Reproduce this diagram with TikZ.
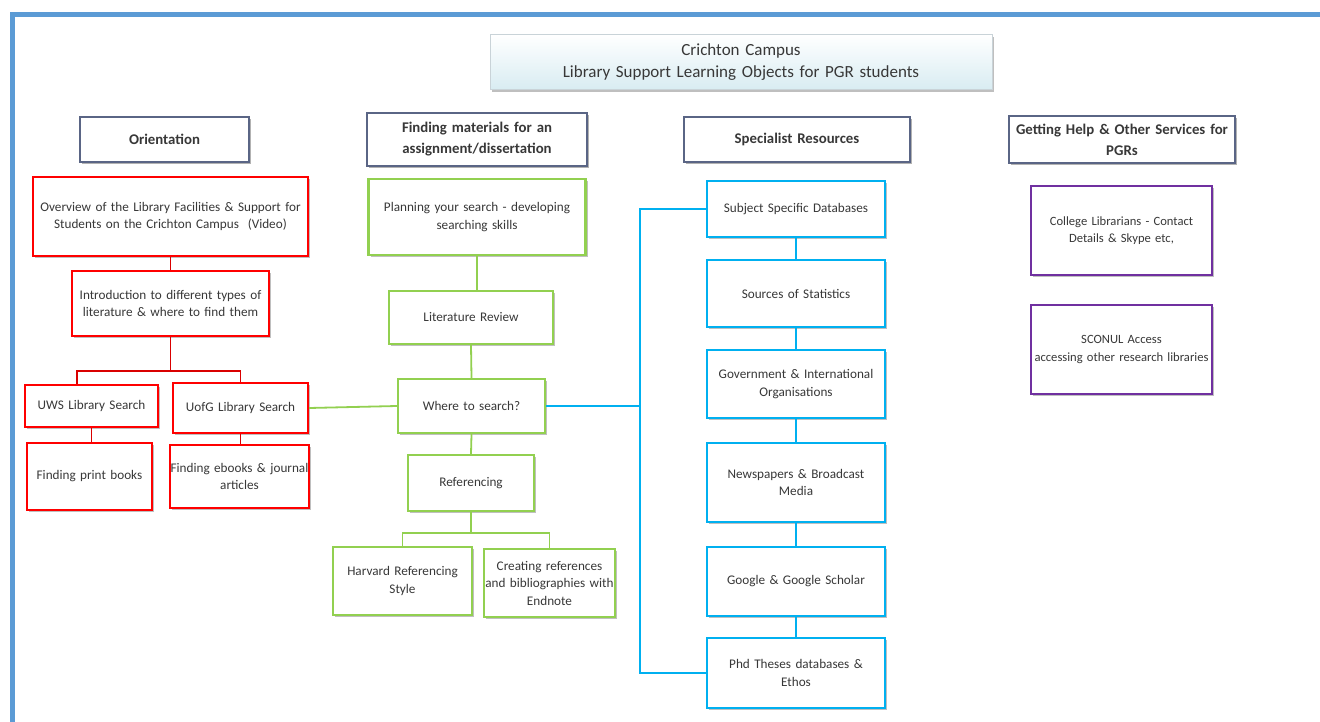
\documentclass[tikz,border=0pt]{standalone}
\usepackage{fontspec}
\setmainfont{Carlito}
\usetikzlibrary{shadows}
\definecolor{frameblue}{HTML}{5B9BD5}
\definecolor{redc}{HTML}{FF0000}
\definecolor{greenc}{HTML}{92D050}
\definecolor{bluec}{HTML}{00B0F0}
\definecolor{purplec}{HTML}{7030A0}
\definecolor{hdrc}{HTML}{5A6585}
\definecolor{txt}{HTML}{383838}
\definecolor{titlebd}{HTML}{C9D3D8}
\definecolor{titlebot}{HTML}{D8ECF2}
\begin{document}
\begin{tikzpicture}[x=1pt,y=-1pt,
  sz/.style n args={3}{minimum width=#1pt, minimum height=#2pt, text width=#3pt},
  box/.style={draw, line width=2.4pt, fill=white, text=txt, align=center, inner sep=0pt,
    font=\fontsize{13.2}{17.5}\selectfont,
    drop shadow={shadow xshift=2pt, shadow yshift=-2pt, opacity=0.25, fill=black}},
  rbox/.style={box, draw=redc},
  gbox/.style={box, draw=greenc},
  bbox/.style={box, draw=bluec},
  pbox/.style={box, draw=purplec, font=\fontsize{12.6}{17.5}\selectfont},
  hdr/.style={draw=hdrc, line width=1.4pt, fill=white, text=txt, align=center, inner sep=0pt,
    font=\fontsize{14.8}{21}\selectfont\bfseries,
    drop shadow={shadow xshift=2pt, shadow yshift=-2pt, opacity=0.3, fill=black}},
  titlebox/.style={draw=titlebd, line width=1pt, top color=white, bottom color=titlebot,
    text=txt, align=center, inner sep=0pt, font=\fontsize{17}{22}\selectfont,
    drop shadow={shadow xshift=2pt, shadow yshift=-2pt, opacity=0.25, fill=black}},
  rconn/.style={draw=redc!85!black, line width=1.8pt},
  gconn/.style={draw=greenc, line width=1.8pt},
  bconn/.style={draw=bluec, line width=1.8pt}]
\useasboundingbox (0,0) rectangle (1320,722);
% frame
\draw[frameblue, line width=5pt] (12,730) -- (12,15) -- (1330,15);

% title
\node[titlebox, sz={502}{55}{495}] (title) at (741,62.5) {Crichton Campus\\Library Support Learning Objects for PGR students};

% headers
\node[hdr, sz={169}{45}{165}] (h1) at (164.5,139.5) {Orientation};
\node[hdr, sz={220}{53}{216}] (h2) at (477,139.5) {Finding materials for an\\assignment/dissertation};
\node[hdr, sz={226}{45}{222}] (h3) at (797,139.5) {Specialist Resources};
\node[hdr, sz={226}{47}{226}] (h4) at (1122,139.5) {Getting Help \& Other Services for\\PGRs};

% red column
\node[rbox, sz={275}{79}{275}] (ov) at (170.5,216.5) {Overview of the Library Facilities \& Support for\\Students on the Crichton Campus\ \ (Video)};
\node[rbox, sz={197}{65}{197}] (intro) at (170.5,303.5) {Introduction to different types of\\literature \& where to find them};
\node[rbox, sz={133}{42}{133}] (uws) at (91.5,406) {UWS Library Search};
\node[rbox, sz={135}{50}{135}] (uofg) at (240.5,408) {UofG Library Search};
\node[rbox, sz={125}{67}{125}] (print) at (89.5,476.5) {Finding print books};
\node[rbox, sz={139}{63}{139}] (ebook) at (239.5,476.5) {Finding ebooks \& journal\\articles};

% green column
\node[gbox, sz={217}{76}{217}] (plan) at (477,217) {Planning your search - developing\\searching skills};
\node[gbox, sz={164}{53}{164}] (lit) at (471,317.5) {Literature Review};
\node[gbox, sz={147}{54}{147}] (where) at (471.5,406) {Where to search?};
\node[gbox, sz={126}{56}{126}] (ref) at (471,483) {Referencing};
\node[gbox, sz={139}{68}{139}] (harv) at (402.5,581) {Harvard Referencing\\Style};
\node[gbox, sz={131}{68}{131}] (endn) at (549.5,583) {Creating references\\and bibliographies with\\Endnote};

% blue column
\node[bbox, sz={178}{56}{178}] (ssd) at (796,209) {Subject Specific Databases};
\node[bbox, sz={178}{67}{178}] (stat) at (796,293.5) {Sources of Statistics};
\node[bbox, sz={178}{68}{178}] (gov) at (796,384) {Government \& International\\Organisations};
\node[bbox, sz={178}{79}{178}] (news) at (796,482.5) {Newspapers \& Broadcast\\Media};
\node[bbox, sz={178}{69}{178}] (goog) at (796,581.5) {Google \& Google Scholar};
\node[bbox, sz={178}{70}{178}] (phd) at (796,673) {Phd Theses databases \&\\Ethos};

% purple column
\node[pbox, sz={181}{89}{181}] (coll) at (1121.5,230.5) {College Librarians - Contact\\Details \& Skype etc,};
\node[pbox, sz={181}{89}{181}] (sconul) at (1121.5,349.5) {SCONUL Access\\accessing other research libraries};

% junction coordinates
\coordinate (rj) at (170.5,371);
\coordinate (rl) at (77,371);
\coordinate (gj) at (471,533);
\coordinate (bj) at (640,406);

% red connectors
\draw[rconn] (ov.south) -- (intro.north);
\draw[rconn] (intro.south) -- (rj) -| (uofg.north);
\draw[rconn] (rj) -- (rl) -- (rl |- uws.north);
\draw[rconn] (uws.south) -- (uws.south |- print.north);
\draw[rconn] (uofg.south) -- (uofg.south |- ebook.north);
% green connectors
\draw[gconn] (plan.south) -- (plan.south |- lit.north);
\draw[gconn] (lit.south) -- (where.north);
\draw[gconn] (where.south) -- (ref.north);
\draw[gconn] (ref.south) -- (gj);
\draw[gconn] (harv.north) |- (gj) -| (endn.north);
\draw[gconn] (uofg.east) -- (where.west);
% blue connectors
\draw[bconn] (where.east) -- (bj);
\draw[bconn] (ssd.west) -| (bj) |- (phd.west);
\draw[bconn] (ssd.south) -- (stat.north);
\draw[bconn] (stat.south) -- (gov.north);
\draw[bconn] (gov.south) -- (news.north);
\draw[bconn] (news.south) -- (goog.north);
\draw[bconn] (goog.south) -- (phd.north);
\end{tikzpicture}
\end{document}
